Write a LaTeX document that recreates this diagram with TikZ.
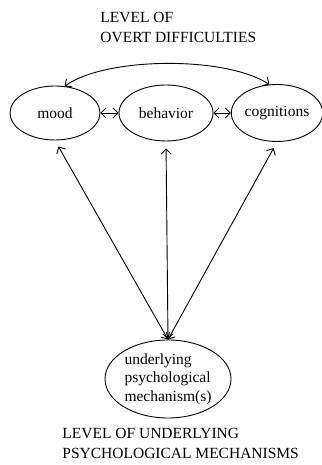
\documentclass[tikz,border=0pt]{standalone}
\usepackage{fontspec}
\setmainfont{Liberation Serif}
\usetikzlibrary{arrows.meta}
\usetikzlibrary{shapes.geometric}
\tikzset{
    level/.style={anchor=north west, align=left, inner sep=0pt,
        font=\fontsize{15.5}{20}\selectfont},
    state/.style args={#1x#2}{
        draw, ellipse, inner sep=0pt,
        minimum width=#1, minimum height=#2,
        font=\fontsize{15.5}{18.5}\selectfont},
}

\begin{document}
\begin{tikzpicture}[x=1pt, y=1pt, line width=0.9pt,
    >={Straight Barb[length=5pt,width=10pt]}]

    \useasboundingbox (0,0) rectangle (321,465);

    \node[level] (T) at (100,453.5) {LEVEL OF\\OVERT DIFFICULTIES};
    \node[level] (U) at (62,37) {LEVEL OF UNDERLYING\\PSYCHOLOGICAL MECHANISMS};

    \node[state=90x54] (M) at (55,352) {mood};
    \node[state=94x56] (B) at (166,352) {behavior};
    \node[state=88x57] (C) at (277,352) {cognitions};
    \node[state=126x78, align=left] (P) at (168,86) {underlying\\psychological\\mechanism(s)};

    \draw[<->] (M) -- (B);
    \draw[<->] (B) -- (C);
    \draw[<->] (M.70) .. controls +(40,29) and +(-45,29) .. (C.105);

    \draw[<->, shorten <=7pt] (M.south) -- (P.north);
    \draw[<->, shorten <=7pt] (B.south) -- (P.north);
    \draw[<->, shorten <=7pt] (C.south) -- (P.north);

\end{tikzpicture}
\end{document}
